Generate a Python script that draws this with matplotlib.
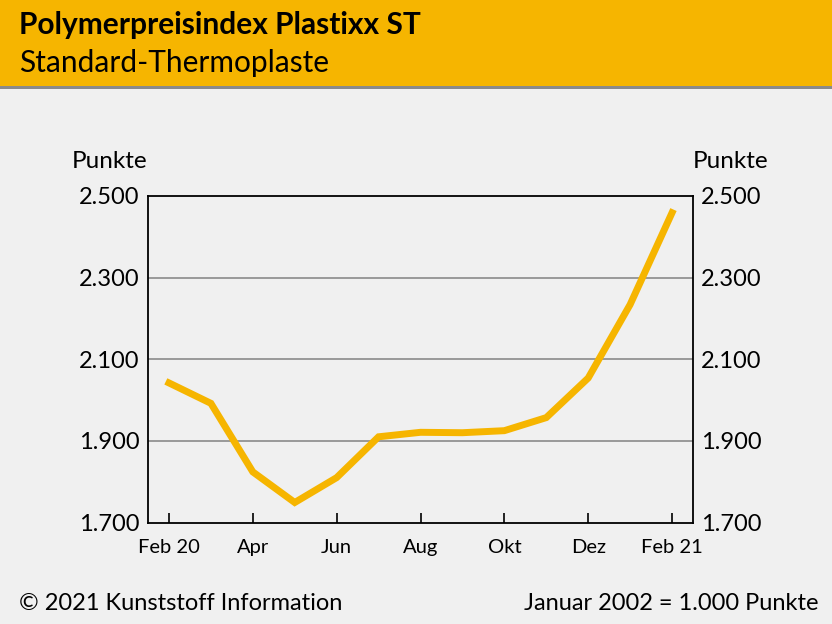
import matplotlib
matplotlib.use('Agg')
import matplotlib.pyplot as plt
from matplotlib.patches import Rectangle

plt.rcParams['font.family'] = ['Lato', 'DejaVu Sans']

months = ['Feb 20', 'Mär', 'Apr', 'Mai', 'Jun', 'Jul', 'Aug', 'Sep', 'Okt', 'Nov', 'Dez', 'Jan', 'Feb 21']
values = [2042, 1992, 1824, 1749, 1810, 1910, 1921, 1920, 1925, 1957, 2054, 2234, 2459]
y_ticks = [1700, 1900, 2100, 2300, 2500]
y_labels = ['1.700', '1.900', '2.100', '2.300', '2.500']

bg = '#f0f0f0'
yellow = '#f6b500'

fig = plt.figure(figsize=(8.32, 6.24), dpi=100, facecolor=bg)

# Kopfband
fig.patches.append(Rectangle((0, 1 - 86 / 624), 1, 86 / 624, transform=fig.transFigure,
                             facecolor=yellow, edgecolor='none', zorder=0))
fig.patches.append(Rectangle((0, 1 - 89 / 624), 1, 3 / 624, transform=fig.transFigure,
                             facecolor='#8a8a8a', edgecolor='none', zorder=0))
fig.text(19 / 832, 1 - 25 / 624, 'Polymerpreisindex Plastixx ST', fontsize=21.5, fontweight='bold',
         va='center', ha='left', color='black')
fig.text(19 / 832, 1 - 63 / 624, 'Standard-Thermoplaste', fontsize=21.5,
         va='center', ha='left', color='black')

ax = fig.add_axes([148 / 832, 1 - 522.5 / 624, (693 - 148) / 832, (522.5 - 196) / 624])
ax.set_facecolor(bg)

x = list(range(len(values)))
ax.plot(x, values, color=yellow, linewidth=5, solid_joinstyle='miter', zorder=3)

ax.set_xlim(-0.5, 12.5)
ax.set_ylim(1700, 2500)

for yv in y_ticks[1:-1]:
    ax.axhline(yv, color='#999999', linewidth=1.4, zorder=1)

ax.set_xticks(x[::2])
ax.set_xticklabels(months[::2], fontsize=14.5)
ax.set_yticks(y_ticks)
ax.set_yticklabels(y_labels, fontsize=17)
ax.tick_params(axis='x', direction='in', length=7, width=1.2, pad=12)
ax.tick_params(axis='y', length=0, left=False, right=False, labelleft=True, labelright=True, pad=6)

for s in ax.spines.values():
    s.set_linewidth(1.3)
    s.set_color('black')

fig.text(110 / 832, 1 - 161 / 624, 'Punkte', fontsize=17.5, ha='center', va='center')
fig.text(731 / 832, 1 - 161 / 624, 'Punkte', fontsize=17.5, ha='center', va='center')

fig.text(19 / 832, 1 - 603 / 624, '© 2021 Kunststoff Information', fontsize=17, ha='left', va='center')
fig.text(818 / 832, 1 - 603 / 624, 'Januar 2002 = 1.000 Punkte', fontsize=17, ha='right', va='center')

fig.savefig('out.png', dpi=100, facecolor=bg)
